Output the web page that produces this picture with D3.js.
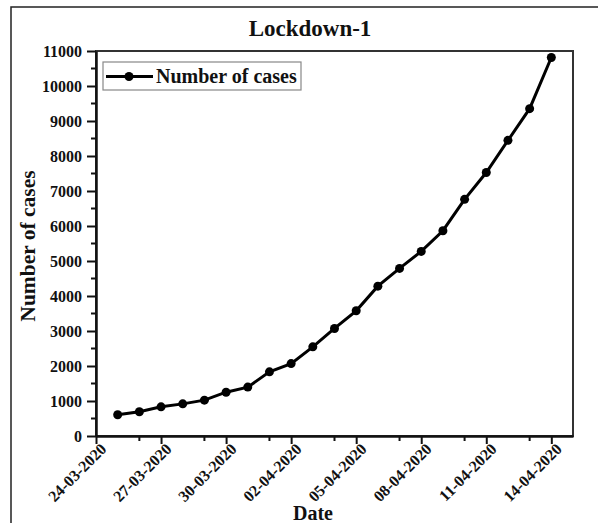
<!DOCTYPE html>
<html>
<head>
<meta charset="utf-8">
<script src="https://cdn.jsdelivr.net/npm/d3@7"></script>
<style>
  body { margin: 0; background: #fff; }
  text { font-family: "Liberation Serif", "Times New Roman", serif; font-weight: bold; fill: #111; }
</style>
</head>
<body>
<div id="chart"></div>
<script>
// data
var dates = ["25-03-2020", "26-03-2020", "27-03-2020", "28-03-2020", "29-03-2020", "30-03-2020",
  "31-03-2020", "01-04-2020", "02-04-2020", "03-04-2020", "04-04-2020", "05-04-2020",
  "06-04-2020", "07-04-2020", "08-04-2020", "09-04-2020", "10-04-2020", "11-04-2020",
  "12-04-2020", "13-04-2020", "14-04-2020"];
var cases = [606, 694, 834, 918, 1024, 1251, 1397, 1834, 2069, 2547, 3072, 3577,
  4281, 4789, 5274, 5865, 6761, 7529, 8447, 9352, 10815];
var xTickLabels = ["24-03-2020", "27-03-2020", "30-03-2020", "02-04-2020",
  "05-04-2020", "08-04-2020", "11-04-2020", "14-04-2020"];
var yTicks = [0, 1000, 2000, 3000, 4000, 5000, 6000, 7000, 8000, 9000, 10000, 11000];

var W = 598, H = 523;
var margin = { top: 51, right: 25, bottom: 87, left: 96 },
  width = W - margin.left - margin.right,
  height = H - margin.top - margin.bottom;

var parse = d3.utcParse("%d-%m-%Y");
var fmt = d3.utcFormat("%d-%m-%Y");

var svg = d3.select("#chart").append("svg")
  .attr("width", W)
  .attr("height", H);

// outer frame
svg.append("rect")
  .attr("x", 11).attr("y", 7)
  .attr("width", 700).attr("height", 700)
  .attr("fill", "none")
  .attr("stroke", "#222")
  .attr("stroke-width", 1.5);

var g = svg.append("g")
  .attr("transform", "translate(" + margin.left + "," + margin.top + ")");

var x = d3.scaleUtc()
  .domain([parse("24-03-2020"), parse("15-04-2020")])
  .range([0, width]);

var y = d3.scaleLinear()
  .domain([0, 11000])
  .range([height, 0]);

// frame of the plot (top + right)
g.append("rect")
  .attr("width", width).attr("height", height)
  .attr("fill", "none")
  .attr("stroke", "#333")
  .attr("stroke-width", 2);

// minor ticks
var yMinor = d3.range(500, 11000, 1000);
g.selectAll(".ymin").data(yMinor).enter().append("line")
  .attr("x1", -5).attr("x2", 0)
  .attr("y1", function (d) { return y(d); })
  .attr("y2", function (d) { return y(d); })
  .attr("stroke", "#111").attr("stroke-width", 2);

var xMinor = xTickLabels.slice(0, -1).map(function (s) {
  return d3.utcDay.offset(parse(s), 2);
});
g.selectAll(".xmin").data(xMinor).enter().append("line")
  .attr("x1", function (d) { return x(d); })
  .attr("x2", function (d) { return x(d); })
  .attr("y1", height).attr("y2", height + 5)
  .attr("stroke", "#111").attr("stroke-width", 2);

// y axis
var yAxis = g.append("g")
  .call(d3.axisLeft(y).tickValues(yTicks).tickFormat(d3.format("d"))
    .tickSize(9).tickPadding(5).tickSizeOuter(0));
yAxis.select(".domain").attr("stroke", "#111").attr("stroke-width", 2.5);
yAxis.selectAll(".tick line").attr("stroke", "#111").attr("stroke-width", 2);
yAxis.selectAll("text")
  .attr("fill", "#111")
  .style("font-size", "16px")
  .style("font-family", "Liberation Serif, serif")
  .style("font-weight", "bold");

// x axis
var xAxis = g.append("g")
  .attr("transform", "translate(0," + height + ")")
  .call(d3.axisBottom(x).tickValues(xTickLabels.map(parse)).tickFormat(fmt)
    .tickSize(8).tickSizeOuter(0));
xAxis.select(".domain").attr("stroke", "#111").attr("stroke-width", 2.5);
xAxis.selectAll(".tick line").attr("stroke", "#111").attr("stroke-width", 2);
xAxis.selectAll("text")
  .attr("fill", "#111")
  .style("font-size", "16px")
  .style("font-family", "Liberation Serif, serif")
  .style("font-weight", "bold")
  .attr("text-anchor", "end")
  .attr("y", 0).attr("dy", 0)
  .attr("transform", "translate(11,14) rotate(-45)");

// line + points
var pts = dates.map(function (d, i) { return { date: parse(d), value: cases[i] }; });

var line = d3.line()
  .x(function (d) { return x(d.date); })
  .y(function (d) { return y(d.value); });

g.append("path")
  .datum(pts)
  .attr("fill", "none")
  .attr("stroke", "#000")
  .attr("stroke-width", 3)
  .attr("d", line);

g.selectAll(".dot").data(pts).enter().append("circle")
  .attr("cx", function (d) { return x(d.date); })
  .attr("cy", function (d) { return y(d.value); })
  .attr("r", 4.5)
  .attr("fill", "#000");

// legend
var lg = svg.append("g").attr("transform", "translate(103,62)");
lg.append("rect")
  .attr("width", 198).attr("height", 28)
  .attr("fill", "#fff")
  .attr("stroke", "#888")
  .attr("stroke-width", 1.2);
lg.append("line")
  .attr("x1", 3).attr("x2", 50).attr("y1", 14.5).attr("y2", 14.5)
  .attr("stroke", "#000").attr("stroke-width", 3);
lg.append("circle").attr("cx", 26).attr("cy", 14.5).attr("r", 4.5).attr("fill", "#000");
lg.append("text")
  .attr("x", 53).attr("y", 21)
  .style("font-size", "20px")
  .text("Number of cases");

// titles
svg.append("text")
  .attr("x", 310).attr("y", 36)
  .attr("text-anchor", "middle")
  .style("font-size", "23px")
  .text("Lockdown-1");

svg.append("text")
  .attr("transform", "translate(35,246) rotate(-90)")
  .attr("text-anchor", "middle")
  .style("font-size", "21.5px")
  .text("Number of cases");

svg.append("text")
  .attr("x", 313).attr("y", 520)
  .attr("text-anchor", "middle")
  .style("font-size", "20px")
  .text("Date");
</script>
</body>
</html>
